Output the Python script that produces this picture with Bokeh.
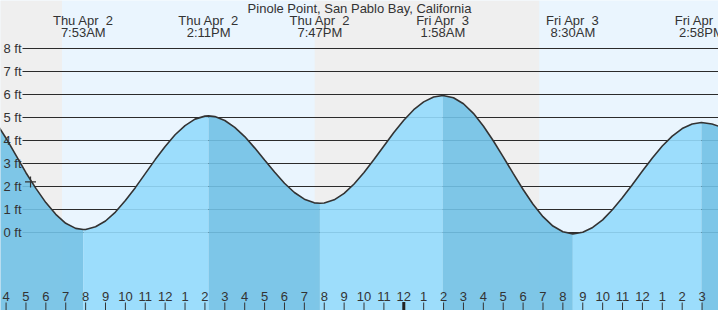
from bokeh.plotting import figure
from bokeh.models import Range1d
from bokeh.core.properties import value
from bokeh.embed import file_html
from bokeh.resources import INLINE
import numpy as np

# ---------------- data ----------------
title = "Pinole Point, San Pablo Bay, California"

# hours counted from Thu Apr 2 00:00
tide_hours = [7.883, 14.183, 19.783, 25.967, 32.5, 38.967]
tide_dates = ["Thu Apr \u00a02", "Thu Apr \u00a02", "Thu Apr \u00a02",
              "Fri Apr \u00a03", "Fri Apr \u00a03", "Fri Apr \u00a03"]
tide_clock = ["7:53AM", "2:11PM", "7:47PM", "1:58AM", "8:30AM", "2:58PM"]
tide_ft = [0.13, 5.07, 1.27, 5.96, -0.06, 4.78]

curve_hours = [3.5, 4.0, 4.5, 5.0, 5.5, 6.0, 6.5, 7.0, 7.5, 7.883,
               8.0, 8.5, 9.0, 9.5, 10.0, 10.5, 11.0, 11.5, 12.0, 12.5, 13.0, 13.5, 14.0, 14.183,
               14.5, 15.0, 15.5, 16.0, 16.5, 17.0, 17.5, 18.0, 18.5, 19.0, 19.5, 19.783,
               20.0, 20.5, 21.0, 21.5, 22.0, 22.5, 23.0, 23.5, 24.0, 24.5, 25.0, 25.5, 25.967,
               26.5, 27.0, 27.5, 28.0, 28.5, 29.0, 29.5, 30.0, 30.5, 31.0, 31.5, 32.0, 32.5,
               33.0, 33.5, 34.0, 34.5, 35.0, 35.5, 36.0, 36.5, 37.0, 37.5, 38.0, 38.5, 38.967,
               39.5, 40.0]
curve_ft = [4.77, 4.10, 3.35, 2.60, 1.92, 1.30, 0.79, 0.40, 0.18, 0.13,
            0.13, 0.25, 0.50, 0.89, 1.39, 1.95, 2.56, 3.17, 3.74, 4.25, 4.65, 4.93, 5.06, 5.07,
            5.04, 4.87, 4.57, 4.17, 3.68, 3.15, 2.63, 2.14, 1.74, 1.45, 1.29, 1.27,
            1.28, 1.42, 1.70, 2.11, 2.61, 3.17, 3.76, 4.35, 4.88, 5.34, 5.68, 5.89, 5.96,
            5.86, 5.60, 5.18, 4.63, 3.99, 3.29, 2.57, 1.87, 1.23, 0.69, 0.28, 0.03, -0.06,
            0.01, 0.22, 0.55, 1.00, 1.52, 2.09, 2.67, 3.24, 3.76, 4.19, 4.52, 4.72, 4.78,
            4.72, 4.57]

# day/night changes (sunrise Thu, sunset Thu, sunrise Fri)
light_hours = [6.82, 19.52, 30.82]

ft_levels = [0, 1, 2, 3, 4, 5, 6, 7, 8]
ft_labels = ["0 ft", "1 ft", "2 ft", "3 ft", "4 ft", "5 ft", "6 ft", "7 ft", "8 ft"]

tick_hours = list(range(4, 40))
tick_labels = ["4", "5", "6", "7", "8", "9", "10", "11", "12", "1", "2", "3",
               "4", "5", "6", "7", "8", "9", "10", "11", "12", "1", "2", "3",
               "4", "5", "6", "7", "8", "9", "10", "11", "12", "1", "2", "3"]
midnight_hour = 24

now_hour = 5.23
now_ft = 2.2

# ---------------- styling ----------------
W, H = 718, 310
X0, X1 = 3.72, 39.826
Y0, Y1 = -3.391, 10.087
px_per_ft = H / (Y1 - Y0)
px_per_hr = W / (X1 - X0)
TXT = "#333333"
FONT = value("Liberation Sans")
FS = "13px"
NIGHT = "#efefef"
DAY = "#eaf5fe"
RISE = "#93dafc"
FALL = "#71c1e5"

p = figure(width=W, height=H, x_range=Range1d(X0, X1), y_range=Range1d(Y0, Y1),
           output_backend="svg", toolbar_location=None,
           x_axis_location=None, y_axis_location=None,
           min_border=0, min_border_left=0, min_border_right=0,
           min_border_top=0, min_border_bottom=0)
p.outline_line_color = None
p.xgrid.visible = False
p.ygrid.visible = False
p.background_fill_color = DAY
p.border_fill_color = "white"

# day / night bands
edges = [X0 - 1] + light_hours + [X1 + 1]
for i in range(len(edges) - 1):
    p.quad(left=edges[i], right=edges[i + 1], bottom=Y0, top=Y1,
           fill_color=NIGHT if i % 2 == 0 else DAY, line_color=None)

# grid lines
gx0 = X0 + 22 / px_per_hr
p.segment(x0=[gx0] * len(ft_levels), x1=[X1 + 1] * len(ft_levels),
          y0=ft_levels, y1=ft_levels, line_color="#2b2b2b", line_width=1.2)

# water: rising (light) and falling (dark) portions
ch = np.array(curve_hours)
cf = np.array(curve_ft)
bounds = [ch[0]] + tide_hours + [ch[-1]]
next_is_low = [tide_ft[0] < tide_ft[1]] + [tide_ft[i] > (tide_ft[i + 1] if i + 1 < len(tide_ft) else tide_ft[i - 1]) for i in range(len(tide_ft))]
for i in range(len(bounds) - 1):
    a, b = bounds[i], bounds[i + 1]
    m = (ch >= a - 1e-6) & (ch <= b + 1e-6)
    falling = next_is_low[i]
    p.varea(x=ch[m], y1=np.full(m.sum(), Y0), y2=cf[m],
            fill_color=FALL if falling else RISE, fill_alpha=0.9)

# curve
p.line(curve_hours, curve_ft, line_color="#333333", line_width=1.6)

# current time marker
p.scatter([now_hour], [now_ft], marker="cross", size=11, line_color="#333333", line_width=1.2)

# y labels
p.text(x=[X0] * len(ft_levels), y=ft_levels, text=ft_labels, x_offset=3,
       text_baseline="middle", text_align="left", text_font=FONT,
       text_font_size=FS, text_color=TXT)

# bottom ticks
other = [h for h in tick_hours if h != midnight_hour]
p.segment(x0=other, x1=other, y0=[Y0] * len(other), y1=[Y0 + 8 / px_per_ft] * len(other),
          line_color="#333333", line_width=1)
p.segment(x0=[midnight_hour], x1=[midnight_hour], y0=[Y0], y1=[Y0 + 8.5 / px_per_ft],
          line_color="#222222", line_width=3)
p.text(x=tick_hours, y=[Y0] * len(tick_hours), text=tick_labels, y_offset=-14,
       text_baseline="middle", text_align="center", text_font=FONT,
       text_font_size=FS, text_color=TXT)

# tide time labels at top
p.text(x=tide_hours, y=[Y1] * len(tide_hours), text=tide_dates, y_offset=20,
       text_baseline="middle", text_align="center", text_font=FONT,
       text_font_size=FS, text_color=TXT)
p.text(x=tide_hours, y=[Y1] * len(tide_hours), text=tide_clock, y_offset=32,
       text_baseline="middle", text_align="center", text_font=FONT,
       text_font_size=FS, text_color=TXT)

# title
p.text(x=[(X0 + X1) / 2], y=[Y1], text=[title], y_offset=8,
       text_baseline="middle", text_align="center", text_font=FONT,
       text_font_size=FS, text_color=TXT)

open("out.html", "w").write(file_html(p, INLINE))
